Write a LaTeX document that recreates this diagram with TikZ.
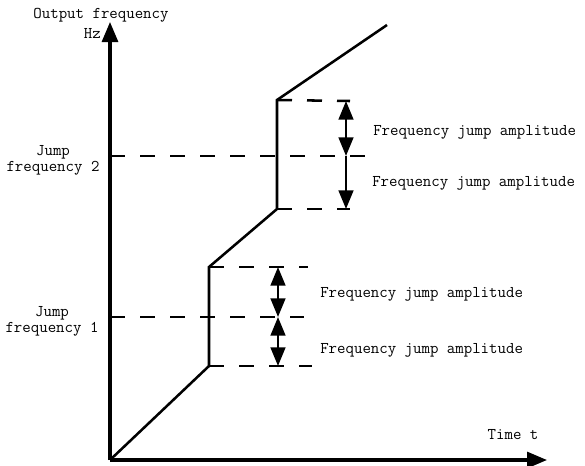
\documentclass[tikz,border=0pt]{standalone}
\usepackage{fontspec}
\usetikzlibrary{arrows.meta}

\begin{document}
\begin{tikzpicture}[x = 0.75pt, y = -0.75pt, font=\ttfamily\fontsize{12.3}{12}\selectfont]
	\tikzstyle{axisStyle} = [line width = 2.3pt, -{Triangle[length = 15pt, width = 12pt]}]
	\tikzstyle{curveStyle} = [line width = 1.9pt, line join = miter]
	\tikzstyle{levelStyle} = [line width = 1.9pt, dash pattern = on 11.25pt off 11.25pt]
	\tikzstyle{ampStyle} = [line width = 1.9pt, {Triangle[length = 14pt, width = 11pt]}-{Triangle[length = 14pt, width = 11pt]}]
	\tikzstyle{ampDownStyle} = [line width = 1.9pt, -{Triangle[length = 14pt, width = 11pt]}]
	\tikzstyle{labelStyle} = [inner sep = 0pt]
	\useasboundingbox (0,0) rectangle (585,465);
	% axes
	\coordinate (O) at (110,460);
	\coordinate (yTop) at (110,22);
	\coordinate (xEnd) at (547,460);
	\draw[axisStyle] (O) -- (yTop);
	\draw[axisStyle] (O) -- (xEnd);
	% output curve
	\coordinate (a1) at (209,366);
	\coordinate (a2) at (209,267);
	\coordinate (b1) at (277,209);
	\coordinate (b2) at (277,100);
	\coordinate (cEnd) at (387,25);
	\draw[curveStyle] (O) -- (a1) -- (a2) -- (b1) -- (b2) -- (cEnd);
	% jump frequency 1
	\coordinate (j1) at (110,317);
	\coordinate (j1End) at (304,317);
	\coordinate (a1End) at (312,366);
	\coordinate (a2End) at (308,267);
	\draw[levelStyle] (j1) -- (j1End);
	\draw[levelStyle] (a1) -- (a1End);
	\draw[levelStyle] (a2) -- (a2End);
	\coordinate (p1) at (278,267);
	\coordinate (p2) at (278,317);
	\coordinate (p3) at (278,366);
	\draw[ampStyle] (p1) -- (p2);
	\draw[ampStyle] (p2) -- (p3);
	% jump frequency 2
	\coordinate (j2) at (110,156);
	\coordinate (j2End) at (366,156);
	\coordinate (b1End) at (350,209);
	\coordinate (b2End) at (350,101);
	\draw[levelStyle] (j2) -- (j2End);
	\draw[levelStyle] (b1) -- (b1End);
	\draw[levelStyle] (b2) -- (b2End);
	\coordinate (q1) at (346,101);
	\coordinate (q2) at (346,156);
	\coordinate (q3) at (346,209);
	\draw[ampStyle] (q1) -- (q2);
	\draw[ampDownStyle] (q2) -- (q3);
	% labels
	\node[labelStyle] (outLabel) at (101,15) {Output frequency};
	\node[labelStyle, anchor = east] (hzLabel) at (101,33) {Hz};
	\node[labelStyle] (timeLabel) at (513,435) {Time t};
	\node[labelStyle, align = center] (jump2Label) at (53,160) {Jump\\frequency 2};
	\node[labelStyle, align = center] (jump1Label) at (52,321) {Jump\\frequency 1};
	\node[labelStyle, anchor = west] (amp1Label) at (373,132) {Frequency jump amplitude};
	\node[labelStyle, anchor = west] (amp2Label) at (372,183) {Frequency jump amplitude};
	\node[labelStyle, anchor = west] (amp3Label) at (320,294) {Frequency jump amplitude};
	\node[labelStyle, anchor = west] (amp4Label) at (320,350) {Frequency jump amplitude};
\end{tikzpicture}
\end{document}
